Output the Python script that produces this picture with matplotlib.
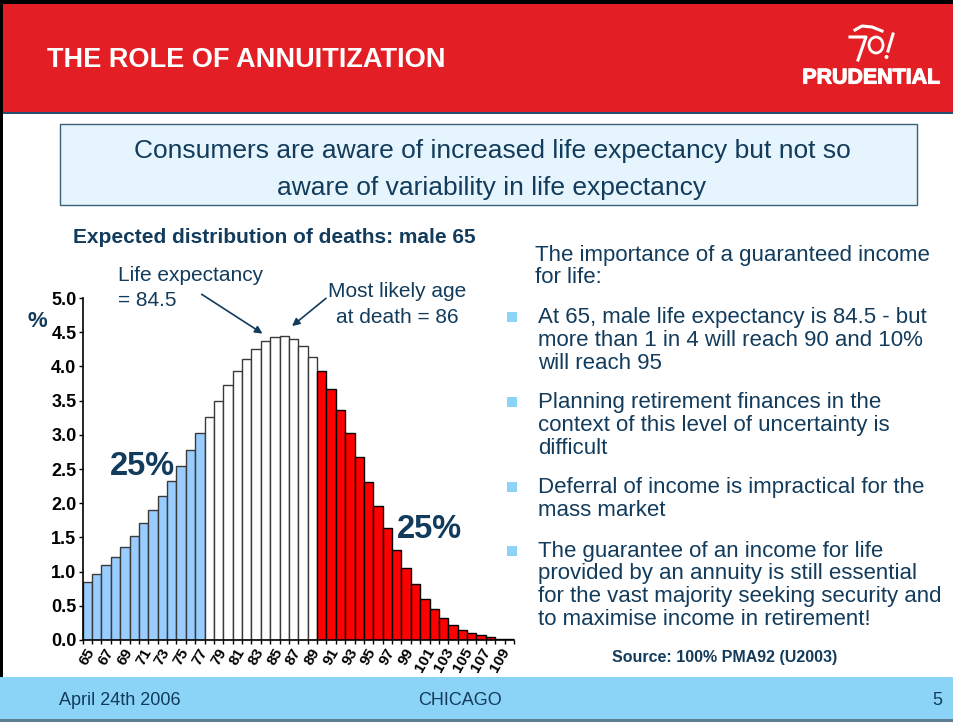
import numpy as np
import matplotlib
matplotlib.use("Agg")
import matplotlib.pyplot as plt
from matplotlib.patches import Rectangle, Ellipse
from matplotlib.lines import Line2D
import matplotlib.patheffects as pe

plt.rcParams["font.family"] = ["Liberation Sans", "DejaVu Sans"]

# Expected distribution of deaths, male aged 65 (% dying at each age)
ages = list(range(65, 111))
pct_deaths = [0.85, 0.97, 1.09, 1.22, 1.36, 1.52, 1.71, 1.90, 2.11, 2.32,
              2.55, 2.78, 3.03, 3.26, 3.50, 3.73, 3.94, 4.11, 4.25, 4.37,
              4.43, 4.44, 4.40, 4.30, 4.14, 3.93, 3.67, 3.36, 3.03, 2.68,
              2.31, 1.96, 1.64, 1.32, 1.05, 0.82, 0.60, 0.45, 0.32, 0.22,
              0.15, 0.10, 0.07, 0.04, 0.02, 0.01]
lower_quartile_age = 77   # last age of the first 25%
upper_quartile_age = 89   # last age before the final 25%
y_ticks = [0.0, 0.5, 1.0, 1.5, 2.0, 2.5, 3.0, 3.5, 4.0, 4.5, 5.0]
x_tick_ages = ages[:-1:2]

life_expectancy = 84.5
most_likely_age = 86

header_title = "THE ROLE OF ANNUITIZATION"
box_lines = ["Consumers are aware of increased life expectancy but not so",
             "aware of variability in life expectancy"]
chart_title = "Expected distribution of deaths: male 65"
intro_lines = ["The importance of a guaranteed income", "for life:"]
bullets = [
    ["At 65, male life expectancy is 84.5 - but",
     "more than 1 in 4 will reach 90 and 10%",
     "will reach 95"],
    ["Planning retirement finances in the",
     "context of this level of uncertainty is",
     "difficult"],
    ["Deferral of income is impractical for the",
     "mass market"],
    ["The guarantee of an income for life",
     "provided by an annuity is still essential",
     "for the vast majority seeking security and",
     "to maximise income in retirement!"],
]
source_text = "Source: 100% PMA92 (U2003)"
footer_left, footer_mid, footer_right = "April 24th 2006", "CHICAGO", "5"

# Colours
RED = "#E31E24"
NAVY = "#123B5C"
BOX_FILL = "#E6F5FD"
FOOTER_BLUE = "#8BD4F7"
BAR_BLUE = "#99CCFF"
BAR_RED = "#FF0000"

W, H = 954, 722
fig = plt.figure(figsize=(W / 100, H / 100), dpi=100)


def fx(x):
  return x / W


def fy(y):
  return 1 - y / H


def rect(x0, y0, x1, y1, **kw):
  fig.patches.append(Rectangle((fx(x0), fy(y1)), fx(x1) - fx(x0),
                               fy(y0) - fy(y1), transform=fig.transFigure,
                               **kw))


# ---- slide furniture ----
rect(0, 4, W, 112, facecolor=RED, edgecolor="none")
rect(0, 112, W, 114, facecolor="#24506E", edgecolor="none")
rect(0, 0, W, 4, facecolor="black", edgecolor="none")
rect(0, 0, 3, H, facecolor="black", edgecolor="none")
rect(0, 677, W, 719, facecolor=FOOTER_BLUE, edgecolor="none")
rect(0, 719, W, H, facecolor="#5C7D92", edgecolor="none")
rect(60, 124, 917, 205, facecolor=BOX_FILL, edgecolor="#3A5F78", linewidth=1)

fig.text(fx(47), fy(67), header_title, color="white", fontsize=19.5,
         fontweight="bold", va="baseline")

# logo
fig.text(fx(871), fy(83.5), "PRUDENTIAL", color="white", fontsize=15.4,
         fontweight="bold", ha="center", va="baseline",
         path_effects=[pe.withStroke(linewidth=0.8, foreground="white")])
logo_strokes = [
    ([850, 866, 858], [37, 37, 60]),
    ([855, 862, 872, 882], [30, 26, 27, 31]),
    ([893, 888], [34, 51]),
]
for xs, ys in logo_strokes:
  fig.lines.append(Line2D([fx(v) for v in xs], [fy(v) for v in ys],
                          transform=fig.transFigure, color="white", lw=2.2))
fig.patches.append(Ellipse((fx(876), fy(45)), fx(14), 16 / H, fill=False,
                           edgecolor="white", lw=2.0,
                           transform=fig.transFigure))
fig.patches.append(Ellipse((fx(886.5), fy(57)), fx(4), 4 / H,
                           facecolor="white", edgecolor="none",
                           transform=fig.transFigure))

# box text
for i, line in enumerate(box_lines):
  fig.text(fx(492), fy(158 + i * 37), line, color=NAVY, fontsize=19,
           ha="center", va="baseline")

# ---- chart ----
fig.text(fx(73), fy(243), chart_title, color=NAVY, fontsize=15,
         fontweight="bold", va="baseline")

ax = fig.add_axes([fx(82.7), fy(640), fx(514) - fx(82.7), (640 - 298) / H])
colors = [BAR_BLUE if a <= lower_quartile_age else
          ("white" if a <= upper_quartile_age else BAR_RED) for a in ages]
edges = ["#3A3A3A" if a <= upper_quartile_age else "black" for a in ages]
ax.bar(ages, pct_deaths, width=1.0, color=colors, edgecolor=edges,
       linewidth=1.0)
ax.set_xlim(ages[0] - 0.5, ages[-1] + 0.5)
ax.set_ylim(0, 5.0)
ax.set_yticks(y_ticks)
ax.set_yticklabels([f"{v:.1f}" for v in y_ticks], fontsize=13,
                   fontweight="bold")
ax.set_xticks(x_tick_ages)
ax.set_xticklabels([str(a) for a in x_tick_ages], fontsize=11,
                   fontweight="bold", rotation=60, ha="center", va="top")
ax.set_xticks(np.arange(ages[0] - 0.5, ages[-1] + 1, 1.0), minor=True)
ax.tick_params(axis="x", which="major", length=0, pad=4)
ax.tick_params(axis="x", which="minor", length=3, width=1, direction="out")
ax.tick_params(axis="y", length=3, width=1, direction="out", pad=1.5)
for side in ("top", "right"):
  ax.spines[side].set_visible(False)
for side in ("left", "bottom"):
  ax.spines[side].set_linewidth(1.2)
ax.patch.set_alpha(0)

fig.text(fx(28), fy(327), "%", color=NAVY, fontsize=16, fontweight="bold",
         va="baseline")

# quartile labels
fig.text(fx(142.5), fy(475), "25%", color=NAVY, fontsize=23.5,
         fontweight="bold", ha="center", va="baseline")
fig.text(fx(429), fy(538.3), "25%", color=NAVY, fontsize=23.5,
         fontweight="bold", ha="center", va="baseline")

# annotations
fig.text(fx(118), fy(281), "Life expectancy", color=NAVY, fontsize=15,
         va="baseline")
fig.text(fx(118), fy(306.5), f"= {life_expectancy}", color=NAVY, fontsize=15,
         va="baseline")
fig.text(fx(397), fy(297.3), "Most likely age", color=NAVY, fontsize=15,
         ha="center", va="baseline")
fig.text(fx(397), fy(322.7), f"at death = {most_likely_age}", color=NAVY,
         fontsize=15, ha="center", va="baseline")

arrow = dict(arrowstyle="-|>", color=NAVY, lw=1.2, mutation_scale=11,
             shrinkA=0, shrinkB=0)
ax.annotate("", xy=(life_expectancy - 0.82, 4.48),
            xytext=(201.7, H - 294.3), textcoords="figure pixels",
            arrowprops=arrow, annotation_clip=False)
ax.annotate("", xy=(most_likely_age + 0.83, 4.59),
            xytext=(326, H - 298.3), textcoords="figure pixels",
            arrowprops=arrow, annotation_clip=False)

# ---- right-hand text ----
LINE_STEP = 22.7
for i, line in enumerate(intro_lines):
  fig.text(fx(535), fy(260.7 + i * LINE_STEP), line, color=NAVY,
           fontsize=16, va="baseline")

bullet_first_baseline = [323.3, 408.3, 493.3, 556.7]
for base, lines in zip(bullet_first_baseline, bullets):
  rect(507, base - 11, 517, base - 1, facecolor=FOOTER_BLUE,
       edgecolor="none")
  for i, line in enumerate(lines):
    fig.text(fx(538), fy(base + i * LINE_STEP), line, color=NAVY,
             fontsize=16, va="baseline")

fig.text(fx(725), fy(661.7), source_text, color=NAVY, fontsize=11.5,
         fontweight="bold", ha="center", va="baseline")

# ---- footer ----
fig.text(fx(59), fy(705), footer_left, color=NAVY, fontsize=13,
         va="baseline")
fig.text(fx(460), fy(705), footer_mid, color=NAVY, fontsize=13,
         ha="center", va="baseline")
fig.text(fx(937), fy(705), footer_right, color=NAVY, fontsize=13,
         ha="center", va="baseline")

fig.savefig("out.png", dpi=100)
